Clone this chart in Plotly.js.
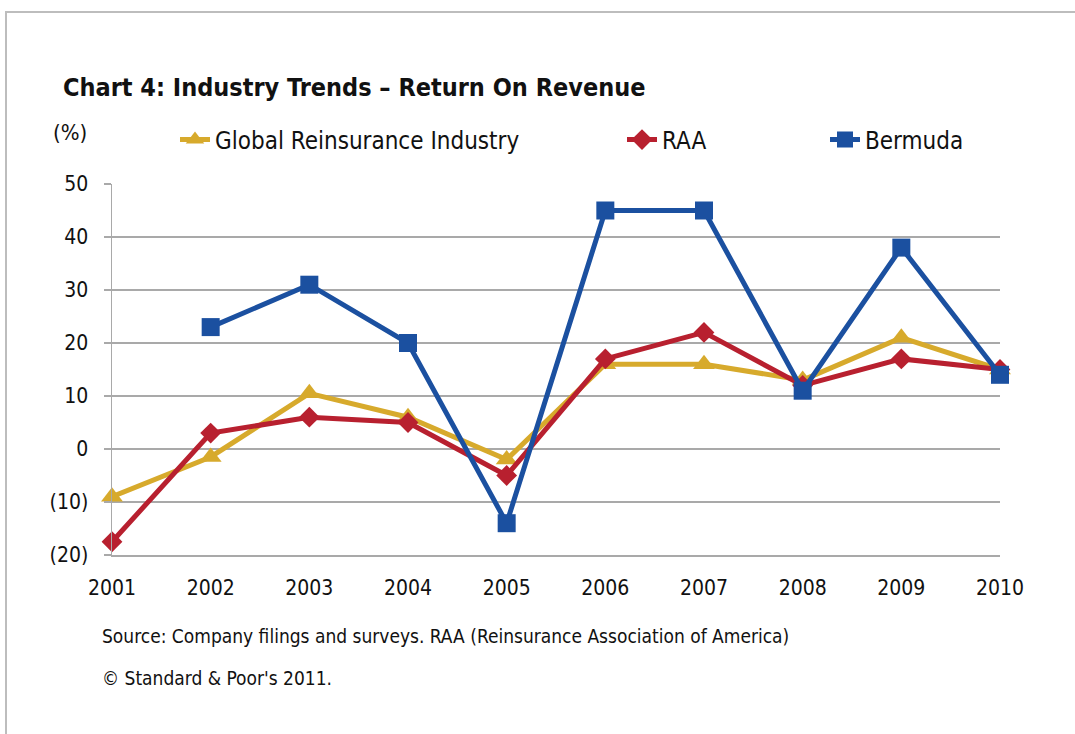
<!DOCTYPE html>
<html>
<head>
<meta charset="utf-8">
<script src="https://cdn.plot.ly/plotly-3.0.1.min.js"></script>
<style>
  html, body { margin: 0; padding: 0; background: #fff; }
  #wrap { position: relative; width: 1075px; height: 734px; overflow: hidden; }
  #chart { position: absolute; left: 0; top: 0; width: 1075px; height: 734px; }
  #frame { position: absolute; left: 5px; top: 11px; width: 1100px; height: 800px;
           border-top: 2px solid #bdbdbd; border-left: 2px solid #bdbdbd; pointer-events: none; }
</style>
</head>
<body>
<div id="wrap">
  <div id="chart"></div>
  <div id="frame"></div>
</div>
<script>
const years = [2001, 2002, 2003, 2004, 2005, 2006, 2007, 2008, 2009, 2010];
const globalReins = [-9, -1.5, 10.5, 6, -2, 16, 16, 13, 21, 15];
const raa = [-17.5, 3, 6, 5, -5, 17, 22, 12, 17, 15];
const bermuda = [null, 23, 31, 20, -14, 45, 45, 11, 38, 14];
const yTickVals = [50, 40, 30, 20, 10, 0, -10, -20];
const yTickText = ['50', '40', '30', '20', '10', '0', '(10)', '(20)'];
const xTickText = years.map(String);

const FONT = '"DejaVu Sans Condensed", "DejaVu Sans", sans-serif';
const GOLD = '#D7AA2C', RED = '#B8202F', BLUE = '#1B50A0';
const GRID = '#A9A9A9';

// plot area in pixels (for converting text positions to paper coordinates)
const PL = 112, PR = 1000, PT = 184, PB = 555;
const px = v => (v - PL) / (PR - PL);
const py = v => (PB - v) / (PB - PT);

const traces = [
  { x: years, y: globalReins, name: 'Global Reinsurance Industry', type: 'scatter', mode: 'lines+markers',
    line: { color: GOLD, width: 5 }, marker: { symbol: 'triangle-up', size: 19, color: GOLD },
    cliponaxis: false, legend: 'legend' },
  { x: years, y: raa, name: 'RAA', type: 'scatter', mode: 'lines+markers',
    line: { color: RED, width: 5 }, marker: { symbol: 'diamond', size: 16, color: RED },
    cliponaxis: false, legend: 'legend2' },
  { x: years, y: bermuda, name: 'Bermuda', type: 'scatter', mode: 'lines+markers',
    line: { color: BLUE, width: 5 }, marker: { symbol: 'square', size: 18, color: BLUE },
    cliponaxis: false, connectgaps: false, legend: 'legend3' }
];

const legendBase = { orientation: 'h', xref: 'container', yref: 'container', yanchor: 'middle',
  xanchor: 'left', bgcolor: 'rgba(0,0,0,0)', font: { family: FONT, size: 24, color: '#111' },
  y: 1 - 140 / 734, visible: true };

const layout = {
  width: 1075, height: 734,
  showlegend: true,
  paper_bgcolor: '#fff', plot_bgcolor: '#fff',
  margin: { l: 112, r: 75, t: 184, b: 179 },
  font: { family: FONT, color: '#111' },
  title: { text: '<b>Chart 4: Industry Trends – Return On Revenue</b>',
    font: { family: FONT, size: 25, color: '#111' },
    xref: 'container', yref: 'container', x: 63 / 1075, xanchor: 'left',
    y: 1 - 87 / 734, yanchor: 'middle' },
  xaxis: { type: 'linear', range: [2001, 2010], tickvals: years, ticktext: xTickText,
    showgrid: false, zeroline: false, showline: true, linecolor: GRID, linewidth: 1.5,
    ticks: '', ticklabelstandoff: 13, tickfont: { family: FONT, size: 21, color: '#111' },
    fixedrange: true },
  xaxis2: { type: 'linear', range: [2001, 2010], tickvals: years, overlaying: 'x',
    anchor: 'free', position: 20 / 70, side: 'bottom', showticklabels: false,
    showgrid: false, zeroline: false, showline: true, linecolor: GRID, linewidth: 1.5,
    ticks: 'outside', ticklen: 6, tickwidth: 1.5, tickcolor: GRID },
  yaxis: { range: [-20, 50], tickvals: yTickVals, ticktext: yTickText,
    showgrid: true, gridcolor: GRID, gridwidth: 1.5, zeroline: false,
    showline: true, linecolor: GRID, linewidth: 1.5, ticks: 'outside', ticklen: 7,
    tickcolor: GRID, tickwidth: 1.5, ticklabelstandoff: 11,
    tickfont: { family: FONT, size: 21, color: '#111' }, fixedrange: true },
  legend: Object.assign({}, legendBase, { x: (215 - 40) / 1075 }),
  legend2: Object.assign({}, legendBase, { x: (662 - 40) / 1075 }),
  legend3: Object.assign({}, legendBase, { x: (865 - 40) / 1075 }),
  annotations: [
    { text: '(%)', xref: 'paper', yref: 'paper', x: px(70), y: py(133),
      xanchor: 'center', yanchor: 'middle', showarrow: false,
      font: { family: FONT, size: 22, color: '#111' } },
    { text: 'Source: Company filings and surveys. RAA (Reinsurance Association of America)',
      xref: 'paper', yref: 'paper', x: px(100), y: py(636),
      xanchor: 'left', yanchor: 'middle', showarrow: false,
      font: { family: FONT, size: 19, color: '#111' } },
    { text: '© Standard & Poor\'s 2011.',
      xref: 'paper', yref: 'paper', x: px(100), y: py(678),
      xanchor: 'left', yanchor: 'middle', showarrow: false,
      font: { family: FONT, size: 19, color: '#111' } }
  ]
};

Plotly.newPlot('chart', traces, layout, { displayModeBar: false, staticPlot: true });
</script>
</body>
</html>
